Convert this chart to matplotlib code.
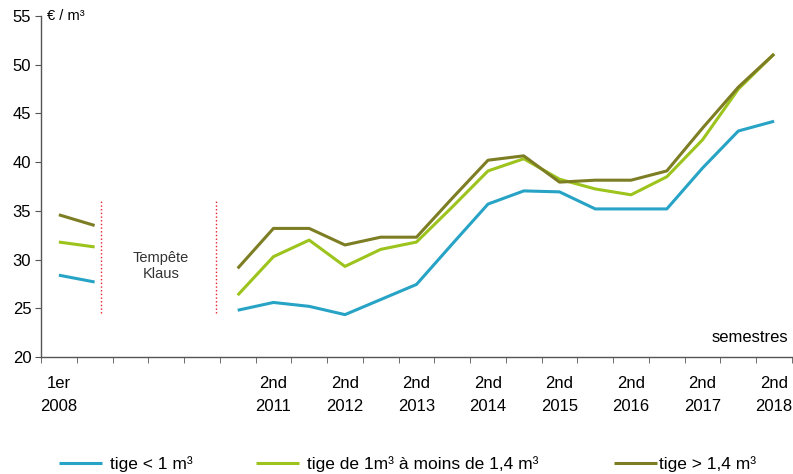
import numpy as np
import matplotlib
matplotlib.use('Agg')
import matplotlib.pyplot as plt

plt.rcParams['font.family'] = ['Liberation Sans', 'DejaVu Sans']

# semesters on the category axis (21 slots, 2009-2010 collapsed around the storm)
n_cat = 21
tick_pos = [0, 6, 8, 10, 12, 14, 16, 18, 20]
tick_labels = ['1er\n2008', '2nd\n2011', '2nd\n2012', '2nd\n2013', '2nd\n2014',
               '2nd\n2015', '2nd\n2016', '2nd\n2017', '2nd\n2018']

# 2008 (before Klaus)
pre_x = [0, 1]
pre_small = [28.4, 27.7]
pre_mid = [31.8, 31.3]
pre_big = [34.6, 33.5]

# 1er 2011 -> 2nd 2018
post_x = list(range(5, 21))
post_small = [24.8, 25.6, 25.2, 24.35, 25.9, 27.45, 31.6, 35.7, 37.05, 36.95,
              35.2, 35.2, 35.2, 39.4, 43.2, 44.2]
post_mid = [26.35, 30.3, 32.0, 29.3, 31.05, 31.8, 35.4, 39.1, 40.35, 38.25,
            37.25, 36.65, 38.5, 42.3, 47.5, 51.1]
post_big = [29.1, 33.2, 33.2, 31.5, 32.3, 32.3, 36.3, 40.2, 40.65, 37.95,
            38.15, 38.15, 39.1, 43.5, 47.7, 51.1]

labels = ['tige < 1 m³', 'tige de 1m³ à moins de 1,4 m³', 'tige > 1,4 m³']
colors = ['#27a3c6', '#9cc41c', '#7d7d24']

fig = plt.figure(figsize=(7.93, 4.74), dpi=100)
ax = fig.add_axes([0.0517, 0.2468, 0.947, 0.7194])

series = [(pre_small, post_small), (pre_mid, post_mid), (pre_big, post_big)]
handles = []
for (pre, post), c in zip(series, colors):
    ax.plot(pre_x, pre, color=c, linewidth=2.2, solid_capstyle='butt')
    h, = ax.plot(post_x, post, color=c, linewidth=2.2, solid_capstyle='butt')
    handles.append(h)

# storm gap markers
for xv in [1.17, 4.38]:
    ax.plot([xv, xv], [24.5, 36.0], color='#e8202a', linestyle=':', linewidth=1.0)
ax.text(2.85, 29.35, 'Tempête\nKlaus', ha='center', va='center', fontsize=10.5,
        color='#333333', linespacing=1.2)

ax.set_xlim(-0.5, n_cat - 0.5)
ax.set_ylim(20, 55)
ax.set_yticks(np.arange(20, 56, 5))
ax.set_xticks(tick_pos)
ax.set_xticklabels(tick_labels, linespacing=1.6)
ax.set_xticks(np.arange(-0.5, n_cat, 1), minor=True)
ax.tick_params(axis='x', which='major', length=0, pad=14, labelsize=12)
ax.tick_params(axis='x', which='minor', length=4, direction='out', color='#555555')
ax.tick_params(axis='y', length=4, direction='out', labelsize=12, pad=3, color='#555555')

for s in ['top', 'right']:
    ax.spines[s].set_visible(False)
for s in ['left', 'bottom']:
    ax.spines[s].set_color('#555555')
    ax.spines[s].set_linewidth(1.0)

ax.text(0.008, 55, '€ / m³', ha='left', va='center', fontsize=10.5,
        transform=ax.get_yaxis_transform())
ax.text(0.995, 22.0, 'semestres', ha='right', va='center', fontsize=12,
        transform=ax.get_yaxis_transform())

# legend: three separate entries placed like the original
leg_x = [59, 256, 614]
pads = [0.45, 0.45, 0.1]
for h, lab, lx, p in zip(handles, labels, leg_x, pads):
    fig.legend([h], [lab], loc='center left', bbox_to_anchor=(lx / 793, 1 - 464 / 474),
               frameon=False, borderpad=0, borderaxespad=0, handlelength=2.5,
               handletextpad=p, prop={'size': 12.5})

fig.savefig('out.png', dpi=100)
